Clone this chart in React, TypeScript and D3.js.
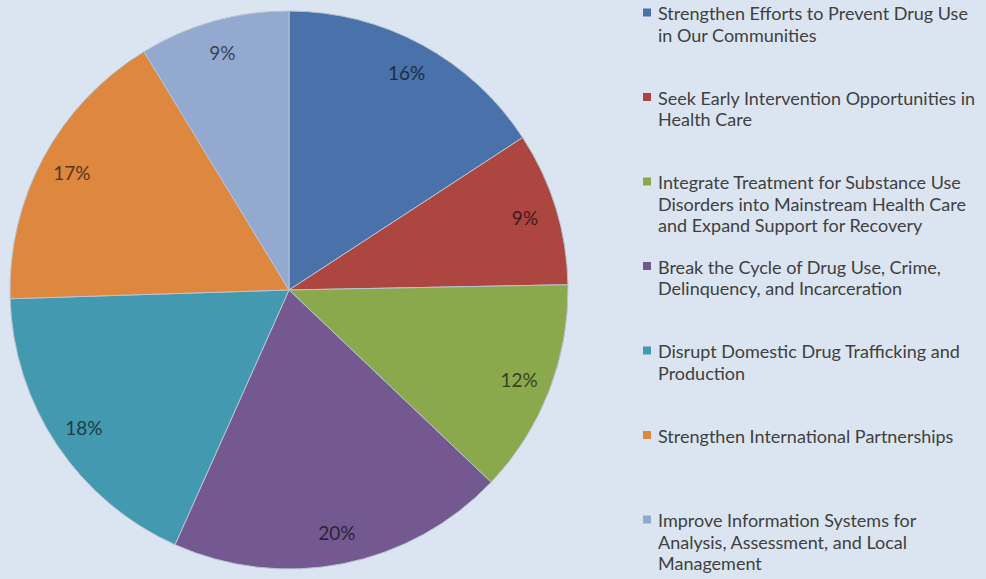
import React from "react";
import * as d3 from "d3";

// chart data
const categories = [
  "Strengthen Efforts to Prevent Drug Use in Our Communities",
  "Seek Early Intervention Opportunities in Health Care",
  "Integrate Treatment for Substance Use Disorders into Mainstream Health Care and Expand Support for Recovery",
  "Break the Cycle of Drug Use, Crime, Delinquency, and Incarceration",
  "Disrupt Domestic Drug Trafficking and Production",
  "Strengthen International Partnerships",
  "Improve Information Systems for Analysis, Assessment, and Local Management",
];
// legend text as it wraps in the picture
const legendLines = [
  ["Strengthen Efforts to Prevent Drug Use", "in Our Communities"],
  ["Seek Early Intervention Opportunities in", "Health Care"],
  ["Integrate Treatment for Substance Use", "Disorders into Mainstream Health Care", "and Expand Support for Recovery"],
  ["Break the Cycle of Drug Use, Crime,", "Delinquency, and Incarceration"],
  ["Disrupt Domestic Drug Trafficking and", "Production"],
  ["Strengthen International Partnerships"],
  ["Improve Information Systems for", "Analysis, Assessment, and Local", "Management"],
];
const shares = [15.8, 8.9, 12.4, 19.6, 17.8, 16.8, 8.7];
const colors = ["#4872a9", "#ad4541", "#8aa84c", "#73598f", "#4399b0", "#dd873f", "#94a9d0"];

const W = 986;
const H = 579;
const cx = 289;
const cy = 290;
const R = 279;
const FONT = "Lato, 'Open Sans', sans-serif";

export default function App() {
  const data = categories.map((c, i) => ({ name: c, value: shares[i], color: colors[i] }));
  const pie = d3.pie<any>().sort(null).value((d) => d.value);
  const arcs = pie(data);
  const arc = d3.arc<any>().innerRadius(0).outerRadius(R);
  const labelArc = d3.arc<any>().innerRadius(R * 0.885).outerRadius(R * 0.885);
  const total = d3.sum(shares);

  const legendX = 643;
  const legendTop = 13;
  const legendStep = 84.5;
  const lineH = 21.5;

  return (
    <svg
      width={W}
      height={H}
      style={{ position: "absolute", left: 0, top: 0, display: "block" }}
    >
      <rect x={0} y={0} width={W} height={H} fill="#dbe5f1" />
      <g transform={`translate(${cx},${cy})`}>
        {arcs.map((a, i) => (
          <path key={i} d={arc(a) as string} fill={a.data.color} stroke="#b9c3cf" strokeWidth={1} />
        ))}
        {arcs.map((a, i) => {
          const [x, y] = labelArc.centroid(a);
          return (
            <text
              key={"l" + i}
              x={x}
              y={y}
              textAnchor="middle"
              dominantBaseline="central"
              fontFamily={FONT}
              fontSize={19}
              fill={d3.color(a.data.color)!.darker(2.6).formatHex()}
            >
              {Math.round((a.data.value / total) * 100)}%
            </text>
          );
        })}
      </g>
      <g>
        {legendLines.map((lines, i) => {
          const y0 = legendTop + i * legendStep;
          return (
            <g key={"lg" + i}>
              <rect x={legendX} y={y0 - 4.5} width={8} height={8} fill={colors[i]} />
              {lines.map((t, j) => (
                <text
                  key={j}
                  x={legendX + 15}
                  y={y0 + j * lineH}
                  dominantBaseline="central"
                  fontFamily={FONT}
                  fontSize={18}
                  fill="#404040"
                >
                  {t}
                </text>
              ))}
            </g>
          );
        })}
      </g>
    </svg>
  );
}
